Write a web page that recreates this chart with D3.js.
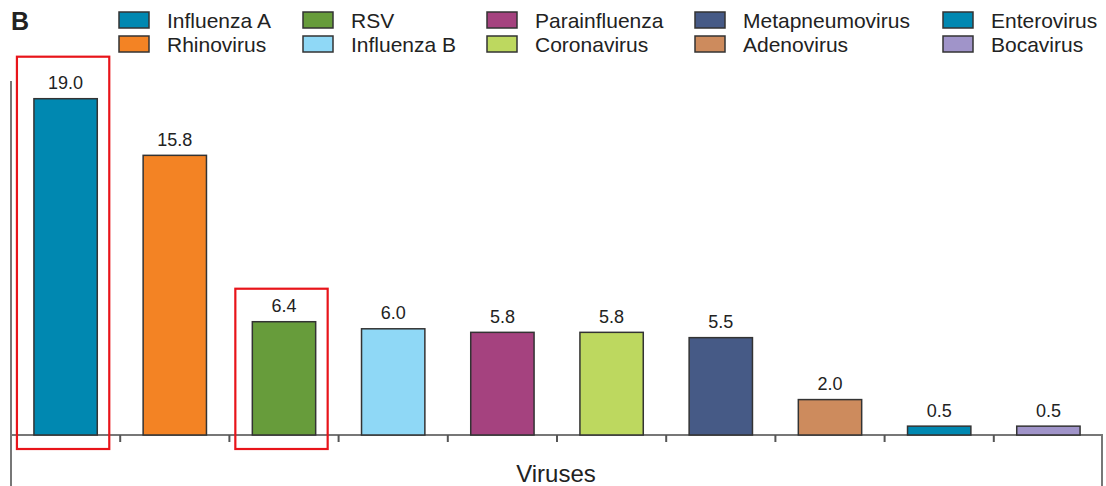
<!DOCTYPE html>
<html>
<head>
<meta charset="utf-8">
<script src="https://cdn.jsdelivr.net/npm/d3@7"></script>
<style>
  body { margin: 0; background: #fff; }
  svg { display: block; font-family: "Liberation Sans", Arial, sans-serif; }
</style>
</head>
<body>
<div id="chart"></div>
<script>
var viruses = ['Influenza A', 'Rhinovirus', 'RSV', 'Influenza B', 'Parainfluenza',
               'Coronavirus', 'Metapneumovirus', 'Adenovirus', 'Enterovirus', 'Bocavirus'];
var rates = [19.0, 15.8, 6.4, 6.0, 5.8, 5.8, 5.5, 2.0, 0.5, 0.5];
var colors = ['#0088b1', '#f38324', '#679c3b', '#8fd8f6', '#a5427f',
              '#bdd85f', '#465a86', '#cd8b5d', '#0088b1', '#a094c9'];
var highlighted = ['Influenza A', 'RSV'];
var highlightGap = [42, 33]; // space above each highlighted bar

var _width = 1106, _height = 486;
var _baseline = 435;

var svg = d3.select('#chart').append('svg')
    .attr('width', _width)
    .attr('height', _height);

var x = d3.scaleBand()
    .domain(viruses)
    .range([11, 1103])
    .paddingInner(0.42)
    .paddingOuter(0.21);

var y = d3.scaleLinear()
    .domain([0, 20])
    .range([_baseline, 81]);

var color = d3.scaleOrdinal().domain(viruses).range(colors);

// panel letter
svg.append('text')
    .attr('x', 11).attr('y', 30)
    .attr('font-size', 25).attr('font-weight', 'bold')
    .attr('fill', '#222')
    .text('B');

// legend, two rows by five columns
var legendCols = [119, 303, 487, 695, 943];
var legend = svg.append('g').attr('class', 'legend')
  .selectAll('g')
  .data(viruses)
  .enter().append('g')
    .attr('transform', function(d, i) {
      return 'translate(' + legendCols[Math.floor(i / 2)] + ',' + (12 + (i % 2) * 24) + ')';
    });

legend.append('rect')
    .attr('width', 30).attr('height', 16)
    .attr('fill', function(d) { return color(d); })
    .attr('stroke', '#333').attr('stroke-width', 1.5);

legend.append('text')
    .attr('x', 48).attr('y', 16)
    .attr('font-size', 21)
    .attr('fill', '#222')
    .text(function(d) { return d; });

// axis lines
var axisColor = '#777';
svg.append('line')
    .attr('x1', 11).attr('x2', 11)
    .attr('y1', y(20)).attr('y2', _height)
    .attr('stroke', axisColor).attr('stroke-width', 2);

svg.append('line')
    .attr('x1', 11).attr('x2', 1103)
    .attr('y1', _baseline).attr('y2', _baseline)
    .attr('stroke', axisColor).attr('stroke-width', 2);

svg.append('line')
    .attr('x1', 1102).attr('x2', 1102)
    .attr('y1', _baseline).attr('y2', _height)
    .attr('stroke', axisColor).attr('stroke-width', 2);

// ticks between categories
svg.append('g').selectAll('line')
    .data(viruses.slice(1))
    .enter().append('line')
    .attr('x1', function(d) { return x(d) - x.step() * x.paddingInner() / 2; })
    .attr('x2', function(d) { return x(d) - x.step() * x.paddingInner() / 2; })
    .attr('y1', _baseline).attr('y2', _baseline + 7)
    .attr('stroke', '#555').attr('stroke-width', 2);

// bars
var data = viruses.map(function(v, i) { return { name: v, value: rates[i] }; });

svg.append('g').attr('class', 'bars')
  .selectAll('rect')
  .data(data)
  .enter().append('rect')
    .attr('x', function(d) { return x(d.name); })
    .attr('y', function(d) { return y(d.value); })
    .attr('width', x.bandwidth())
    .attr('height', function(d) { return _baseline - y(d.value); })
    .attr('fill', function(d) { return color(d.name); })
    .attr('stroke', '#333').attr('stroke-width', 1.5);

// value labels
svg.append('g').attr('class', 'labels')
  .selectAll('text')
  .data(data)
  .enter().append('text')
    .attr('x', function(d) { return x(d.name) + x.bandwidth() / 2; })
    .attr('y', function(d) { return y(d.value) - 9.5; })
    .attr('text-anchor', 'middle')
    .attr('font-size', 18)
    .attr('fill', '#222')
    .text(function(d) { return d.value.toFixed(1); });

// x axis title
svg.append('text')
    .attr('x', 556).attr('y', 482)
    .attr('text-anchor', 'middle')
    .attr('font-size', 24)
    .attr('fill', '#222')
    .text('Viruses');

// red highlight boxes
svg.append('g').attr('class', 'highlight')
  .selectAll('rect')
  .data(data.filter(function(d) { return highlighted.indexOf(d.name) >= 0; }))
  .enter().append('rect')
    .attr('x', function(d) { return x(d.name) - 17; })
    .attr('y', function(d, i) { return y(d.value) - highlightGap[i]; })
    .attr('width', x.bandwidth() + 29)
    .attr('height', function(d, i) { return 449 - (y(d.value) - highlightGap[i]); })
    .attr('fill', 'none')
    .attr('stroke', '#e8141a').attr('stroke-width', 2.2);
</script>
</body>
</html>
